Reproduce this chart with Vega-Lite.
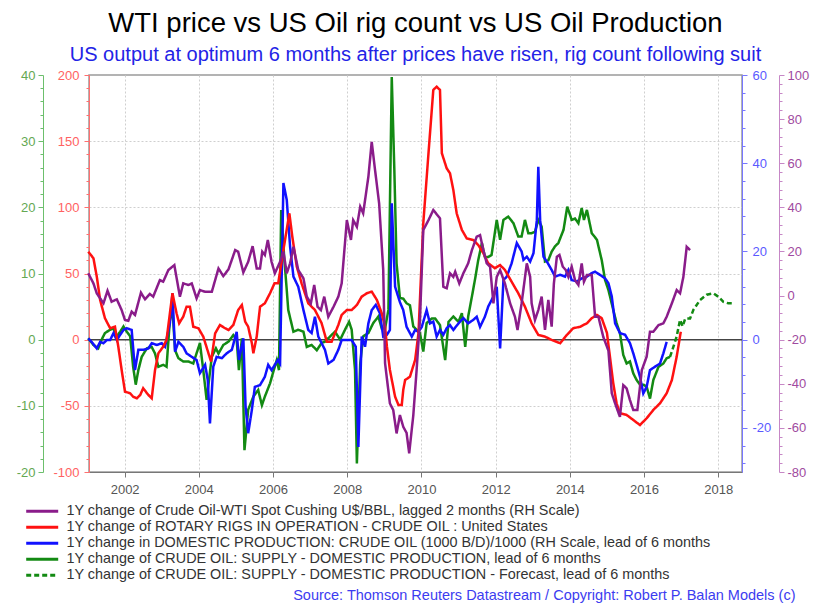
{
  "$schema": "https://vega.github.io/schema/vega-lite/v6.json",
  "width": 653,
  "height": 397,
  "autosize": {"type": "none"},
  "padding": {"left": 89, "top": 75, "right": 83, "bottom": 133},
  "title": {
    "text": "WTI price vs US Oil rig count vs US Oil Production",
    "subtitle": "US output at optimum 6 months after prices have risen, rig count following suit",
    "fontSize": 27.5, "fontWeight": "normal", "color": "#000000",
    "subtitleColor": "#2323e6", "subtitleFontSize": 20,
    "anchor": "middle", "offset": 4, "subtitlePadding": 8
  },
  "datasets": {
    "wti": [
      {"t":2001.02,"v":10.1},{"t":2001.16,"v":5.5},{"t":2001.25,"v":1.0},{"t":2001.43,"v":-3.5},{"t":2001.54,"v":2.2},{"t":2001.65,"v":-2.8},{"t":2001.79,"v":-1.7},{"t":2001.92,"v":-6.6},{"t":2002.01,"v":-11.1},{"t":2002.10,"v":-11.4},{"t":2002.19,"v":-7.3},{"t":2002.28,"v":-8.8},{"t":2002.44,"v":1.3},{"t":2002.55,"v":-1.7},{"t":2002.68,"v":0.7},{"t":2002.77,"v":-0.5},{"t":2002.95,"v":7.0},{"t":2003.04,"v":6.3},{"t":2003.18,"v":11.6},{"t":2003.34,"v":13.8},{"t":2003.49,"v":-0.5},{"t":2003.58,"v":5.5},{"t":2003.72,"v":4.8},{"t":2003.81,"v":5.5},{"t":2003.94,"v":-1.3},{"t":2004.03,"v":2.5},{"t":2004.17,"v":1.7},{"t":2004.35,"v":1.7},{"t":2004.53,"v":12.3},{"t":2004.66,"v":8.8},{"t":2004.80,"v":11.9},{"t":2004.98,"v":20.6},{"t":2005.06,"v":19.9},{"t":2005.20,"v":10.5},{"t":2005.33,"v":15.3},{"t":2005.45,"v":22.4},{"t":2005.56,"v":12.3},{"t":2005.65,"v":12.3},{"t":2005.71,"v":19.9},{"t":2005.78,"v":18.4},{"t":2005.86,"v":25.2},{"t":2005.96,"v":15.3},{"t":2006.05,"v":10.1},{"t":2006.19,"v":15.3},{"t":2006.28,"v":19.9},{"t":2006.37,"v":10.1},{"t":2006.46,"v":14.6},{"t":2006.55,"v":22.1},{"t":2006.68,"v":11.6},{"t":2006.82,"v":7.8},{"t":2006.91,"v":-0.5},{"t":2007.02,"v":-3.5},{"t":2007.11,"v":4.8},{"t":2007.20,"v":-5.1},{"t":2007.29,"v":-6.6},{"t":2007.38,"v":-0.5},{"t":2007.49,"v":-9.6},{"t":2007.63,"v":-5.1},{"t":2007.76,"v":-0.5},{"t":2007.85,"v":5.5},{"t":2007.99,"v":34.2},{"t":2008.10,"v":25.2},{"t":2008.16,"v":34.2},{"t":2008.26,"v":31.2},{"t":2008.35,"v":40.3},{"t":2008.43,"v":37.3},{"t":2008.57,"v":53.9},{"t":2008.66,"v":69.7},{"t":2008.75,"v":56.9},{"t":2008.86,"v":41.8},{"t":2008.97,"v":11.6},{"t":2009.02,"v":-30.7},{"t":2009.15,"v":-48.9},{"t":2009.24,"v":-51.9},{"t":2009.33,"v":-62.5},{"t":2009.42,"v":-54.2},{"t":2009.51,"v":-59.5},{"t":2009.60,"v":-62.3},{"t":2009.67,"v":-71.5},{"t":2009.78,"v":-54.4},{"t":2009.87,"v":-33.8},{"t":2009.96,"v":-11.1},{"t":2010.05,"v":29.7},{"t":2010.19,"v":34.2},{"t":2010.32,"v":38.8},{"t":2010.50,"v":35.0},{"t":2010.59,"v":4.0},{"t":2010.68,"v":3.3},{"t":2010.77,"v":10.1},{"t":2010.86,"v":8.5},{"t":2010.91,"v":10.8},{"t":2011.02,"v":5.5},{"t":2011.13,"v":10.1},{"t":2011.26,"v":14.6},{"t":2011.36,"v":20.6},{"t":2011.49,"v":26.7},{"t":2011.58,"v":27.4},{"t":2011.67,"v":20.6},{"t":2011.76,"v":14.6},{"t":2011.85,"v":13.1},{"t":2011.94,"v":-3.5},{"t":2012.03,"v":8.5},{"t":2012.12,"v":11.6},{"t":2012.25,"v":5.5},{"t":2012.39,"v":-3.5},{"t":2012.52,"v":-9.6},{"t":2012.59,"v":-15.6},{"t":2012.70,"v":-3.5},{"t":2012.84,"v":14.6},{"t":2012.93,"v":8.5},{"t":2012.97,"v":-3.5},{"t":2013.06,"v":-11.1},{"t":2013.15,"v":-6.6},{"t":2013.24,"v":-0.5},{"t":2013.33,"v":-15.6},{"t":2013.42,"v":-2.0},{"t":2013.51,"v":-14.1},{"t":2013.57,"v":5.5},{"t":2013.65,"v":17.6},{"t":2013.72,"v":18.4},{"t":2013.81,"v":13.1},{"t":2013.89,"v":11.6},{"t":2013.96,"v":8.5},{"t":2014.05,"v":13.1},{"t":2014.14,"v":7.0},{"t":2014.23,"v":4.8},{"t":2014.32,"v":14.6},{"t":2014.38,"v":6.3},{"t":2014.46,"v":9.3},{"t":2014.59,"v":9.3},{"t":2014.68,"v":-9.6},{"t":2014.77,"v":-9.6},{"t":2014.90,"v":-18.7},{"t":2015.04,"v":-25.0},{"t":2015.13,"v":-44.3},{"t":2015.22,"v":-48.9},{"t":2015.35,"v":-55.0},{"t":2015.44,"v":-40.6},{"t":2015.53,"v":-42.1},{"t":2015.62,"v":-47.4},{"t":2015.71,"v":-51.9},{"t":2015.82,"v":-51.9},{"t":2015.94,"v":-33.8},{"t":2016.07,"v":-27.7},{"t":2016.16,"v":-16.4},{"t":2016.25,"v":-16.4},{"t":2016.39,"v":-13.4},{"t":2016.52,"v":-12.6},{"t":2016.61,"v":-9.6},{"t":2016.75,"v":-3.5},{"t":2016.88,"v":2.5},{"t":2016.97,"v":1.0},{"t":2017.06,"v":8.5},{"t":2017.15,"v":22.1},{"t":2017.24,"v":20.6}
    ],
    "rigs": [
      {"t":2001.02,"v":66.5},{"t":2001.16,"v":61.5},{"t":2001.25,"v":47.6},{"t":2001.34,"v":30.0},{"t":2001.47,"v":16.2},{"t":2001.61,"v":8.6},{"t":2001.74,"v":9.8},{"t":2001.83,"v":-5.3},{"t":2001.92,"v":-22.9},{"t":2002.01,"v":-39.3},{"t":2002.15,"v":-40.5},{"t":2002.23,"v":-43.1},{"t":2002.33,"v":-44.3},{"t":2002.42,"v":-41.8},{"t":2002.50,"v":-36.7},{"t":2002.64,"v":-41.8},{"t":2002.73,"v":-44.3},{"t":2002.82,"v":-22.9},{"t":2002.91,"v":-10.3},{"t":2003.04,"v":-5.3},{"t":2003.13,"v":-0.2},{"t":2003.22,"v":19.9},{"t":2003.29,"v":35.1},{"t":2003.40,"v":19.9},{"t":2003.47,"v":12.4},{"t":2003.58,"v":17.4},{"t":2003.67,"v":24.9},{"t":2003.76,"v":24.9},{"t":2003.85,"v":9.8},{"t":2003.99,"v":8.6},{"t":2004.12,"v":2.3},{"t":2004.26,"v":-10.3},{"t":2004.33,"v":-16.6},{"t":2004.44,"v":4.8},{"t":2004.57,"v":11.1},{"t":2004.71,"v":8.6},{"t":2004.80,"v":7.3},{"t":2004.93,"v":11.1},{"t":2005.06,"v":22.4},{"t":2005.16,"v":26.2},{"t":2005.25,"v":13.6},{"t":2005.33,"v":9.8},{"t":2005.43,"v":-2.7},{"t":2005.47,"v":-10.3},{"t":2005.56,"v":2.3},{"t":2005.65,"v":24.9},{"t":2005.78,"v":27.5},{"t":2005.92,"v":35.1},{"t":2006.04,"v":42.6},{"t":2006.14,"v":42.6},{"t":2006.28,"v":67.8},{"t":2006.44,"v":95.5},{"t":2006.52,"v":77.8},{"t":2006.64,"v":55.2},{"t":2006.77,"v":42.6},{"t":2006.95,"v":27.5},{"t":2007.13,"v":22.4},{"t":2007.31,"v":12.4},{"t":2007.45,"v":-1.5},{"t":2007.58,"v":-1.5},{"t":2007.76,"v":11.1},{"t":2007.85,"v":18.7},{"t":2007.99,"v":22.4},{"t":2008.12,"v":22.4},{"t":2008.26,"v":26.2},{"t":2008.39,"v":32.5},{"t":2008.53,"v":35.1},{"t":2008.66,"v":36.3},{"t":2008.80,"v":30.0},{"t":2008.93,"v":19.9},{"t":2009.02,"v":9.8},{"t":2009.07,"v":-5.3},{"t":2009.15,"v":-22.9},{"t":2009.29,"v":-43.1},{"t":2009.38,"v":-49.3},{"t":2009.47,"v":-49.3},{"t":2009.51,"v":-38.0},{"t":2009.56,"v":-30.5},{"t":2009.69,"v":-28.0},{"t":2009.83,"v":-15.3},{"t":2009.92,"v":4.8},{"t":2010.05,"v":88.0},{"t":2010.19,"v":140.9},{"t":2010.32,"v":188.7},{"t":2010.41,"v":191.2},{"t":2010.50,"v":188.7},{"t":2010.55,"v":140.9},{"t":2010.68,"v":129.5},{"t":2010.77,"v":125.7},{"t":2010.86,"v":113.1},{"t":2010.95,"v":95.5},{"t":2011.09,"v":82.9},{"t":2011.22,"v":76.6},{"t":2011.40,"v":75.3},{"t":2011.53,"v":71.6},{"t":2011.67,"v":65.3},{"t":2011.80,"v":57.7},{"t":2011.98,"v":54.0},{"t":2012.12,"v":56.4},{"t":2012.25,"v":52.7},{"t":2012.43,"v":43.8},{"t":2012.61,"v":35.1},{"t":2012.79,"v":24.9},{"t":2012.97,"v":12.4},{"t":2013.15,"v":3.6},{"t":2013.33,"v":2.3},{"t":2013.51,"v":-0.2},{"t":2013.74,"v":-2.7},{"t":2013.92,"v":3.6},{"t":2014.09,"v":8.6},{"t":2014.28,"v":9.8},{"t":2014.46,"v":12.4},{"t":2014.59,"v":16.2},{"t":2014.73,"v":18.7},{"t":2014.86,"v":16.2},{"t":2015.00,"v":5.1},{"t":2015.08,"v":-12.8},{"t":2015.17,"v":-32.9},{"t":2015.26,"v":-48.1},{"t":2015.35,"v":-55.6},{"t":2015.53,"v":-56.9},{"t":2015.71,"v":-60.7},{"t":2015.89,"v":-64.5},{"t":2016.07,"v":-59.4},{"t":2016.25,"v":-53.1},{"t":2016.43,"v":-48.1},{"t":2016.61,"v":-40.5},{"t":2016.75,"v":-30.5},{"t":2016.88,"v":-12.8},{"t":2016.99,"v":6.0}
    ],
    "prod": [
      {"t":2001.02,"v":0.3},{"t":2001.11,"v":-0.5},{"t":2001.25,"v":-2.0},{"t":2001.34,"v":-0.5},{"t":2001.43,"v":-0.8},{"t":2001.52,"v":-0.1},{"t":2001.61,"v":-0.1},{"t":2001.70,"v":1.5},{"t":2001.79,"v":-0.1},{"t":2001.88,"v":1.1},{"t":2001.97,"v":2.2},{"t":2002.06,"v":2.6},{"t":2002.19,"v":2.2},{"t":2002.28,"v":-6.9},{"t":2002.37,"v":-2.3},{"t":2002.50,"v":-2.3},{"t":2002.64,"v":-2.0},{"t":2002.73,"v":-0.8},{"t":2002.87,"v":-1.2},{"t":2003.00,"v":-0.8},{"t":2003.09,"v":-1.6},{"t":2003.22,"v":3.7},{"t":2003.29,"v":10.5},{"t":2003.36,"v":-2.7},{"t":2003.45,"v":-0.5},{"t":2003.58,"v":-1.6},{"t":2003.67,"v":-3.1},{"t":2003.81,"v":-3.9},{"t":2003.94,"v":-4.6},{"t":2004.03,"v":-7.6},{"t":2004.17,"v":-5.7},{"t":2004.24,"v":-9.1},{"t":2004.30,"v":-19.0},{"t":2004.39,"v":-6.1},{"t":2004.48,"v":-3.9},{"t":2004.62,"v":-4.2},{"t":2004.75,"v":-3.1},{"t":2004.89,"v":-2.3},{"t":2005.02,"v":1.8},{"t":2005.08,"v":-4.6},{"t":2005.20,"v":0.3},{"t":2005.26,"v":-15.2},{"t":2005.33,"v":-21.2},{"t":2005.43,"v":-15.9},{"t":2005.51,"v":-10.7},{"t":2005.65,"v":-10.3},{"t":2005.78,"v":-8.4},{"t":2005.87,"v":-5.7},{"t":2005.96,"v":-6.9},{"t":2006.05,"v":-5.7},{"t":2006.13,"v":-4.6},{"t":2006.19,"v":-5.4},{"t":2006.28,"v":35.5},{"t":2006.37,"v":31.7},{"t":2006.46,"v":21.1},{"t":2006.55,"v":14.3},{"t":2006.68,"v":12.0},{"t":2006.82,"v":6.7},{"t":2006.95,"v":2.2},{"t":2007.04,"v":1.5},{"t":2007.13,"v":5.2},{"t":2007.22,"v":0.7},{"t":2007.40,"v":-2.3},{"t":2007.49,"v":-5.4},{"t":2007.63,"v":-4.6},{"t":2007.76,"v":-2.3},{"t":2007.85,"v":-0.1},{"t":2008.03,"v":-0.1},{"t":2008.12,"v":-0.1},{"t":2008.23,"v":-1.6},{"t":2008.30,"v":-24.3},{"t":2008.39,"v":0.7},{"t":2008.48,"v":-1.6},{"t":2008.57,"v":3.7},{"t":2008.66,"v":6.7},{"t":2008.77,"v":7.9},{"t":2008.88,"v":6.0},{"t":2008.97,"v":0.7},{"t":2009.07,"v":1.1},{"t":2009.15,"v":2.2},{"t":2009.20,"v":30.9},{"t":2009.29,"v":12.0},{"t":2009.42,"v":8.5},{"t":2009.51,"v":6.7},{"t":2009.60,"v":2.9},{"t":2009.74,"v":0.7},{"t":2009.83,"v":2.2},{"t":2009.92,"v":1.8},{"t":2010.01,"v":2.9},{"t":2010.14,"v":6.7},{"t":2010.23,"v":3.7},{"t":2010.32,"v":4.1},{"t":2010.41,"v":0.7},{"t":2010.50,"v":2.2},{"t":2010.59,"v":1.1},{"t":2010.68,"v":2.6},{"t":2010.77,"v":3.3},{"t":2010.86,"v":2.2},{"t":2011.00,"v":3.7},{"t":2011.13,"v":4.9},{"t":2011.26,"v":3.7},{"t":2011.40,"v":4.5},{"t":2011.49,"v":5.2},{"t":2011.58,"v":2.9},{"t":2011.71,"v":5.2},{"t":2011.80,"v":7.5},{"t":2011.94,"v":9.8},{"t":2012.03,"v":12.0},{"t":2012.12,"v":-2.0},{"t":2012.21,"v":13.5},{"t":2012.30,"v":14.3},{"t":2012.43,"v":17.3},{"t":2012.57,"v":21.9},{"t":2012.70,"v":20.0},{"t":2012.75,"v":18.1},{"t":2012.84,"v":18.8},{"t":2012.93,"v":17.7},{"t":2013.02,"v":19.6},{"t":2013.11,"v":27.1},{"t":2013.15,"v":39.2},{"t":2013.20,"v":27.1},{"t":2013.29,"v":18.8},{"t":2013.38,"v":17.7},{"t":2013.51,"v":15.8},{"t":2013.60,"v":14.3},{"t":2013.74,"v":14.7},{"t":2013.87,"v":14.3},{"t":2013.96,"v":15.8},{"t":2014.05,"v":13.5},{"t":2014.19,"v":13.2},{"t":2014.32,"v":13.9},{"t":2014.46,"v":14.3},{"t":2014.59,"v":15.1},{"t":2014.68,"v":15.4},{"t":2014.81,"v":14.7},{"t":2014.95,"v":13.9},{"t":2015.04,"v":12.8},{"t":2015.13,"v":9.8},{"t":2015.22,"v":3.7},{"t":2015.35,"v":1.5},{"t":2015.49,"v":1.1},{"t":2015.62,"v":-0.8},{"t":2015.71,"v":-3.1},{"t":2015.80,"v":-5.7},{"t":2015.89,"v":-8.4},{"t":2015.98,"v":-12.2},{"t":2016.07,"v":-10.7},{"t":2016.16,"v":-6.9},{"t":2016.30,"v":-6.1},{"t":2016.43,"v":-5.4},{"t":2016.52,"v":-3.1},{"t":2016.61,"v":-0.5}
    ],
    "supply": [
      {"t":2001.02,"v":0.2},{"t":2001.16,"v":-0.8},{"t":2001.29,"v":-1.3},{"t":2001.38,"v":0.0},{"t":2001.47,"v":1.0},{"t":2001.61,"v":1.5},{"t":2001.70,"v":1.7},{"t":2001.79,"v":0.5},{"t":2001.88,"v":1.2},{"t":2001.97,"v":2.0},{"t":2002.06,"v":1.2},{"t":2002.15,"v":0.5},{"t":2002.23,"v":-4.1},{"t":2002.30,"v":-6.8},{"t":2002.37,"v":-4.6},{"t":2002.46,"v":-2.6},{"t":2002.60,"v":-1.3},{"t":2002.73,"v":-1.1},{"t":2002.82,"v":-2.1},{"t":2002.91,"v":-4.1},{"t":2003.04,"v":-3.8},{"t":2003.13,"v":-4.1},{"t":2003.22,"v":3.0},{"t":2003.29,"v":4.5},{"t":2003.36,"v":-1.6},{"t":2003.45,"v":-2.8},{"t":2003.58,"v":-3.3},{"t":2003.72,"v":-3.3},{"t":2003.85,"v":-3.6},{"t":2004.03,"v":-0.5},{"t":2004.12,"v":-4.6},{"t":2004.21,"v":-9.1},{"t":2004.35,"v":-2.6},{"t":2004.46,"v":-1.3},{"t":2004.53,"v":-2.1},{"t":2004.66,"v":-0.8},{"t":2004.80,"v":-0.3},{"t":2004.93,"v":0.7},{"t":2005.02,"v":0.0},{"t":2005.08,"v":-4.6},{"t":2005.16,"v":0.2},{"t":2005.23,"v":-16.7},{"t":2005.33,"v":-10.6},{"t":2005.47,"v":-8.6},{"t":2005.60,"v":-7.6},{"t":2005.70,"v":-9.9},{"t":2005.78,"v":-8.6},{"t":2005.92,"v":-6.6},{"t":2006.01,"v":-4.8},{"t":2006.10,"v":-3.1},{"t":2006.16,"v":-4.6},{"t":2006.22,"v":19.6},{"t":2006.30,"v":12.5},{"t":2006.37,"v":7.5},{"t":2006.41,"v":4.5},{"t":2006.55,"v":1.2},{"t":2006.68,"v":1.5},{"t":2006.82,"v":1.2},{"t":2006.91,"v":-1.1},{"t":2007.04,"v":-0.8},{"t":2007.18,"v":-1.6},{"t":2007.31,"v":-0.5},{"t":2007.40,"v":-0.3},{"t":2007.54,"v":0.5},{"t":2007.67,"v":1.2},{"t":2007.81,"v":0.0},{"t":2007.94,"v":1.5},{"t":2008.05,"v":2.7},{"t":2008.12,"v":1.5},{"t":2008.21,"v":-4.6},{"t":2008.26,"v":-18.7},{"t":2008.35,"v":-3.6},{"t":2008.43,"v":0.5},{"t":2008.57,"v":1.0},{"t":2008.70,"v":2.5},{"t":2008.84,"v":3.5},{"t":2008.93,"v":1.7},{"t":2009.02,"v":1.7},{"t":2009.11,"v":4.5},{"t":2009.20,"v":39.7},{"t":2009.27,"v":25.6},{"t":2009.33,"v":11.5},{"t":2009.42,"v":6.3},{"t":2009.51,"v":6.2},{"t":2009.60,"v":5.5},{"t":2009.69,"v":5.2},{"t":2009.78,"v":2.0},{"t":2009.87,"v":1.5},{"t":2009.96,"v":1.0},{"t":2010.05,"v":-1.8},{"t":2010.14,"v":2.5},{"t":2010.28,"v":3.2},{"t":2010.37,"v":3.2},{"t":2010.50,"v":2.2},{"t":2010.64,"v":-3.1},{"t":2010.73,"v":2.7},{"t":2010.86,"v":3.5},{"t":2011.00,"v":2.7},{"t":2011.09,"v":4.0},{"t":2011.18,"v":-1.1},{"t":2011.26,"v":3.5},{"t":2011.36,"v":6.5},{"t":2011.45,"v":9.3},{"t":2011.53,"v":12.0},{"t":2011.63,"v":14.6},{"t":2011.71,"v":12.5},{"t":2011.80,"v":12.5},{"t":2011.89,"v":12.8},{"t":2012.03,"v":18.1},{"t":2012.12,"v":15.1},{"t":2012.21,"v":18.1},{"t":2012.34,"v":18.6},{"t":2012.48,"v":17.6},{"t":2012.61,"v":15.6},{"t":2012.70,"v":15.6},{"t":2012.79,"v":18.1},{"t":2012.88,"v":16.1},{"t":2012.97,"v":16.1},{"t":2013.06,"v":16.3},{"t":2013.15,"v":18.1},{"t":2013.24,"v":17.1},{"t":2013.33,"v":11.8},{"t":2013.42,"v":12.0},{"t":2013.51,"v":13.3},{"t":2013.60,"v":14.1},{"t":2013.69,"v":14.6},{"t":2013.83,"v":16.6},{"t":2013.93,"v":20.1},{"t":2014.05,"v":18.1},{"t":2014.14,"v":18.3},{"t":2014.23,"v":17.6},{"t":2014.32,"v":19.9},{"t":2014.38,"v":18.1},{"t":2014.46,"v":19.6},{"t":2014.59,"v":16.1},{"t":2014.73,"v":15.1},{"t":2014.86,"v":12.0},{"t":2014.95,"v":9.0},{"t":2015.04,"v":7.5},{"t":2015.17,"v":4.5},{"t":2015.26,"v":2.5},{"t":2015.35,"v":1.0},{"t":2015.44,"v":-2.3},{"t":2015.53,"v":-3.6},{"t":2015.62,"v":-3.3},{"t":2015.71,"v":-5.1},{"t":2015.80,"v":-6.1},{"t":2015.89,"v":-6.8},{"t":2015.98,"v":-6.8},{"t":2016.07,"v":-7.1},{"t":2016.16,"v":-8.9},{"t":2016.25,"v":-6.1},{"t":2016.39,"v":-4.1},{"t":2016.52,"v":-3.6},{"t":2016.61,"v":-2.8},{"t":2016.70,"v":-2.6}
    ],
    "fcst": [
      {"t":2016.70,"v":-2.6},{"t":2016.79,"v":-1.1},{"t":2016.88,"v":0.5},{"t":2016.97,"v":3.0},{"t":2017.04,"v":2.0},{"t":2017.11,"v":3.2},{"t":2017.24,"v":3.2},{"t":2017.33,"v":4.5},{"t":2017.51,"v":6.0},{"t":2017.69,"v":6.8},{"t":2017.87,"v":7.0},{"t":2018.00,"v":6.5},{"t":2018.14,"v":5.7},{"t":2018.27,"v":5.5},{"t":2018.41,"v":5.5}
    ]
  },
  "layer": [
    {
      "data": {"values": [{"v": 0}]},
      "mark": {"type": "rule", "color": "#444444", "strokeWidth": 1.5},
      "encoding": {
        "y": {"field": "v", "type": "quantitative", "scale": {"domain": [-100, 200], "nice": false, "zero": false}, "axis": null}
      }
    },
    {
      "data": {"name": "supply"},
      "mark": {"type": "line", "strokeWidth": 2.5},
      "encoding": {
        "x": {"field": "t", "type": "quantitative", "scale": {"domain": [2001.04, 2018.64], "nice": false, "zero": false},
          "axis": {"title": "Source: Thomson Reuters Datastream / Copyright:  Robert P. Balan Models (c)",
            "titleColor": "#3c3cf0", "titleFontSize": 14.5, "titleFontWeight": "normal", "titleAlign": "right", "titleX": 706, "titleY": 123, "titleBaseline": "middle",
            "values": [2002,2004,2006,2008,2010,2012,2014,2016,2018],
            "format": "d",
            "tickSize": 5,
            "grid": true,
            "gridColor": "#cfcfcf", "gridDash": [2, 2],
            "labelOverlap": false, "labelFlush": false,
            "domainColor": "#777777", "tickColor": "#777777", "labelColor": "#555555", "labelFontSize": 13, "labelPadding": 6}},
        "y": {"field": "v", "type": "quantitative", "scale": {"domain": [-20, 40], "nice": false, "zero": false},
          "axis": {"orient": "left", "offset": 46, "title": null,
            "values": [-20,-18,-16,-14,-12,-10,-8,-6,-4,-2,0,2,4,6,8,10,12,14,16,18,20,22,24,26,28,30,32,34,36,38,40],
            "labelExpr": "datum.value % 10 == 0 ? '' + datum.value : ''",
            "tickSize": {"condition": {"test": "datum.value % 10 == 0", "value": 5}, "value": 3},
            "grid": false, "labelOverlap": false, "labelFlush": false,
            "domainColor": "#6cbf6c", "tickColor": "#6cbf6c", "labelColor": "#64a852", "labelFontSize": 13, "labelPadding": 3}},
        "color": {"datum": "1Y change of CRUDE OIL: SUPPLY - DOMESTIC PRODUCTION, lead of 6 months", "type": "nominal", "title": null,
          "scale": {"domain": ["1Y change of Crude Oil-WTI Spot Cushing U$/BBL, lagged 2 months (RH Scale)", "1Y change of ROTARY RIGS IN OPERATION - CRUDE OIL : United States", "1Y change in DOMESTIC PRODUCTION: CRUDE OIL (1000 B/D)/1000 (RH Scale, lead of 6 months", "1Y change of CRUDE OIL: SUPPLY - DOMESTIC PRODUCTION, lead of 6 months", "1Y change of CRUDE OIL: SUPPLY - DOMESTIC PRODUCTION - Forecast, lead of 6 months"], "range": ["#8a1c8a", "#ff1111", "#1111ff", "#138a13", "#138a13"]}},
        "strokeDash": {"datum": "1Y change of CRUDE OIL: SUPPLY - DOMESTIC PRODUCTION, lead of 6 months", "type": "nominal", "title": null,
          "scale": {"domain": ["1Y change of Crude Oil-WTI Spot Cushing U$/BBL, lagged 2 months (RH Scale)", "1Y change of ROTARY RIGS IN OPERATION - CRUDE OIL : United States", "1Y change in DOMESTIC PRODUCTION: CRUDE OIL (1000 B/D)/1000 (RH Scale, lead of 6 months", "1Y change of CRUDE OIL: SUPPLY - DOMESTIC PRODUCTION, lead of 6 months", "1Y change of CRUDE OIL: SUPPLY - DOMESTIC PRODUCTION - Forecast, lead of 6 months"], "range": [[1,0],[1,0],[1,0],[1,0],[5,3]]}}
      }
    },
    {
      "data": {"name": "fcst"},
      "mark": {"type": "line", "strokeWidth": 2.5},
      "encoding": {
        "x": {"field": "t", "type": "quantitative"},
        "y": {"field": "v", "type": "quantitative", "scale": {"domain": [-20, 40], "nice": false, "zero": false}, "axis": null},
        "color": {"datum": "1Y change of CRUDE OIL: SUPPLY - DOMESTIC PRODUCTION - Forecast, lead of 6 months", "type": "nominal", "title": null},
        "strokeDash": {"datum": "1Y change of CRUDE OIL: SUPPLY - DOMESTIC PRODUCTION - Forecast, lead of 6 months", "type": "nominal", "title": null}
      }
    },
    {
      "data": {"name": "prod"},
      "mark": {"type": "line", "strokeWidth": 2.5},
      "encoding": {
        "x": {"field": "t", "type": "quantitative"},
        "y": {"field": "v", "type": "quantitative", "scale": {"domain": [-30, 60], "nice": false, "zero": false},
          "axis": {"orient": "right", "offset": 0, "title": null,
            "values": [-28,-24,-20,-16,-12,-8,-4,0,4,8,12,16,20,24,28,32,36,40,44,48,52,56,60],
            "labelExpr": "datum.value % 20 == 0 ? '' + datum.value : ''",
            "tickSize": {"condition": {"test": "datum.value % 20 == 0", "value": 5}, "value": 3},
            "grid": false, "labelOverlap": false, "labelFlush": false,
            "domainColor": "#7777ff", "tickColor": "#7777ff", "labelColor": "#5a5aff", "labelFontSize": 13, "labelPadding": 5}},
        "color": {"datum": "1Y change in DOMESTIC PRODUCTION: CRUDE OIL (1000 B/D)/1000 (RH Scale, lead of 6 months", "type": "nominal", "title": null},
        "strokeDash": {"datum": "1Y change in DOMESTIC PRODUCTION: CRUDE OIL (1000 B/D)/1000 (RH Scale, lead of 6 months", "type": "nominal", "title": null}
      }
    },
    {
      "data": {"name": "rigs"},
      "mark": {"type": "line", "strokeWidth": 2.5},
      "encoding": {
        "x": {"field": "t", "type": "quantitative"},
        "y": {"field": "v", "type": "quantitative", "scale": {"domain": [-100, 200], "nice": false, "zero": false},
          "axis": {"orient": "left", "offset": 0, "title": null,
            "values": [-100,-90,-80,-70,-60,-50,-40,-30,-20,-10,0,10,20,30,40,50,60,70,80,90,100,110,120,130,140,150,160,170,180,190,200],
            "labelExpr": "datum.value % 50 == 0 ? '' + datum.value : ''",
            "tickSize": {"condition": {"test": "datum.value % 50 == 0", "value": 5}, "value": 3},
            "grid": true,
            "gridOpacity": {"condition": {"test": "datum.value % 50 == 0 && datum.value > -100 && datum.value < 200 && datum.value != 0", "value": 1}, "value": 0},
            "gridColor": "#cfcfcf", "gridDash": [2, 2],
            "labelOverlap": false, "labelFlush": false,
            "domainColor": "#ff7070", "tickColor": "#ff7070", "labelColor": "#ff6262", "labelFontSize": 13, "labelPadding": 5}},
        "color": {"datum": "1Y change of ROTARY RIGS IN OPERATION - CRUDE OIL : United States", "type": "nominal", "title": null},
        "strokeDash": {"datum": "1Y change of ROTARY RIGS IN OPERATION - CRUDE OIL : United States", "type": "nominal", "title": null}
      }
    },
    {
      "data": {"name": "wti"},
      "mark": {"type": "line", "strokeWidth": 2.5},
      "encoding": {
        "x": {"field": "t", "type": "quantitative"},
        "y": {"field": "v", "type": "quantitative", "scale": {"domain": [-80, 100], "nice": false, "zero": false},
          "axis": {"orient": "right", "offset": 37, "title": null,
            "values": [-80,-76,-72,-68,-64,-60,-56,-52,-48,-44,-40,-36,-32,-28,-24,-20,-16,-12,-8,-4,0,4,8,12,16,20,24,28,32,36,40,44,48,52,56,60,64,68,72,76,80,84,88,92,96,100],
            "labelExpr": "datum.value % 20 == 0 ? '' + datum.value : ''",
            "tickSize": {"condition": {"test": "datum.value % 20 == 0", "value": 5}, "value": 3},
            "grid": false, "labelOverlap": false, "labelFlush": false,
            "domainColor": "#c687c6", "tickColor": "#c687c6", "labelColor": "#a04aa0", "labelFontSize": 13, "labelPadding": 3}},
        "color": {"datum": "1Y change of Crude Oil-WTI Spot Cushing U$/BBL, lagged 2 months (RH Scale)", "type": "nominal", "title": null},
        "strokeDash": {"datum": "1Y change of Crude Oil-WTI Spot Cushing U$/BBL, lagged 2 months (RH Scale)", "type": "nominal", "title": null}
      }
    }
  ],
  "resolve": {"scale": {"y": "independent"}},
  "config": {
    "font": "Liberation Sans",
    "view": {"stroke": "#9a9a9a", "strokeWidth": 1.5},
    "legend": {
      "orient": "none", "legendX": -54, "legendY": 429, "direction": "vertical",
      "symbolType": "M-4,0H4", "symbolSize": 64, "symbolStrokeWidth": 3,
      "labelFontSize": 14.4, "labelColor": "#333333", "labelLimit": 800, "labelOffset": 17,
      "rowPadding": 1, "padding": 0
    }
  }
}
